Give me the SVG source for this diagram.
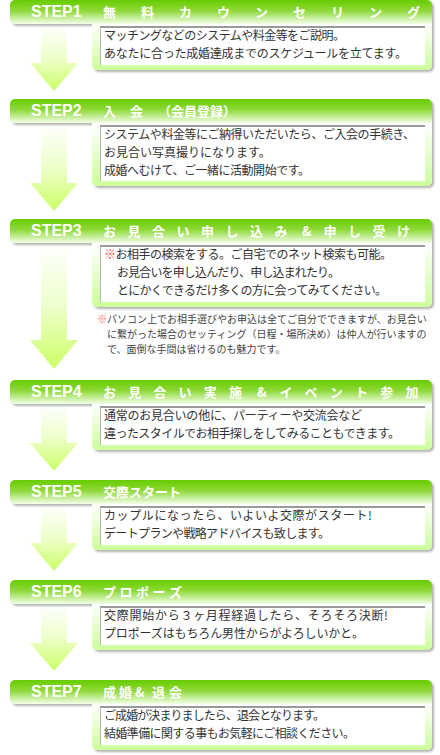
<svg xmlns="http://www.w3.org/2000/svg" width="440" height="755" viewBox="0 0 440 755">
<defs>
<linearGradient id="hdr" x1="0" y1="0" x2="0" y2="1">
<stop offset="0" stop-color="#66cc00"/>
<stop offset="0.45" stop-color="#8fd93a"/>
<stop offset="1" stop-color="#f4ffea"/>
</linearGradient>
<linearGradient id="pnl" x1="0" y1="0" x2="0" y2="1">
<stop offset="0" stop-color="#ffffff"/>
<stop offset="1" stop-color="#ccff99"/>
</linearGradient>
<linearGradient id="arr" x1="0" y1="0" x2="0" y2="1">
<stop offset="0" stop-color="#ffffff"/>
<stop offset="0.5" stop-color="#eeffcc"/>
<stop offset="0.75" stop-color="#dcff99"/>
<stop offset="1" stop-color="#ccff66"/>
</linearGradient>
<filter id="sh" x="-5%" y="-10%" width="110%" height="130%">
<feDropShadow dx="2" dy="2" stdDeviation="1.2" flood-color="#000" flood-opacity="0.3"/>
</filter>
</defs>
<style>
.hdr{fill:url(#hdr)}
.pnl{fill:url(#pnl)}
.box{fill:#ffffff}
.bt{stroke:#9a9a9a;stroke-width:2;fill:none}
.bl{stroke:#b4b4b4;stroke-width:1;fill:none}
.arrow{fill:url(#arr)}
.stp{font-family:"Liberation Sans",Arial,sans-serif;font-weight:bold;font-size:16px;fill:#ffffff}
.ttl{font-family:"Noto Sans CJK JP",sans-serif;font-weight:bold;font-size:13px;fill:#ffffff}
.bd{font-family:"Noto Sans CJK JP",sans-serif;font-size:12px;fill:#333333}
.nt{font-family:"Noto Sans CJK JP",sans-serif;font-size:10px;fill:#444444}
.red{fill:#ff4d4d}
</style>

<g id="connectors">
<path class="arrow" d="M41,24 H67 V63 H78 L54,91 L30,63 H41 Z"/>
<path class="arrow" d="M41,123 H67 V183 H78 L54,211 L30,183 H41 Z"/>
<path class="arrow" d="M41,243 H67 V340 H78 L54,369 L30,340 H41 Z"/>
<path class="arrow" d="M41,404 H67 V443 H78 L54,471 L30,443 H41 Z"/>
<path class="arrow" d="M41,504 H67 V543 H78 L54,571 L30,543 H41 Z"/>
<path class="arrow" d="M41,604 H67 V643 H78 L54,671 L30,643 H41 Z"/>
</g>

<g id="step1">
<g filter="url(#sh)">
<path class="hdr" d="M15,0 H427 A5,5 0 0 1 432,5 V24 H15 A5,5 0 0 1 10,19 V5 A5,5 0 0 1 15,0 Z"/>
<path class="pnl" d="M92,24 H432 V65 A5,5 0 0 1 427,70 H97 A5,5 0 0 1 92,65 Z"/>
</g>
<rect class="box" x="100" y="26" width="325" height="39"/>
<path class="bt" d="M100,27 H425"/>
<path class="bl" d="M100.5,27 V65"/>
<text class="stp" x="31" y="17">STEP1</text>
<text class="ttl" x="103 141 179 217 255 293 331 369 407" y="17">無料カウンセリング</text>
<text class="bd" x="104" y="40" textLength="241" lengthAdjust="spacing">マッチングなどのシステムや料金等をご説明。</text>
<text class="bd" x="104" y="58" textLength="303" lengthAdjust="spacing">あなたに合った成婚達成までのスケジュールを立てます。</text>
</g>

<g id="step2">
<g filter="url(#sh)">
<path class="hdr" d="M15,99 H427 A5,5 0 0 1 432,104 V123 H15 A5,5 0 0 1 10,118 V104 A5,5 0 0 1 15,99 Z"/>
<path class="pnl" d="M92,123 H432 V181 A5,5 0 0 1 427,186 H97 A5,5 0 0 1 92,181 Z"/>
</g>
<rect class="box" x="100" y="125" width="325" height="56"/>
<path class="bt" d="M100,126 H425"/>
<path class="bl" d="M100.5,126 V181"/>
<text class="stp" x="31" y="116">STEP2</text>
<text class="ttl" x="103 130 158" y="116">入会（会員登録）</text>
<text class="bd" x="104" y="139" textLength="311" lengthAdjust="spacing">システムや料金等にご納得いただいたら、ご入会の手続き、</text>
<text class="bd" x="104" y="157">お見合い写真撮りになります。</text>
<text class="bd" x="104" y="175" textLength="206" lengthAdjust="spacing">成婚へむけて、ご一緒に活動開始です。</text>
</g>

<g id="step3">
<g filter="url(#sh)">
<path class="hdr" d="M15,219 H427 A5,5 0 0 1 432,224 V243 H15 A5,5 0 0 1 10,238 V224 A5,5 0 0 1 15,219 Z"/>
<path class="pnl" d="M92,243 H432 V302 A5,5 0 0 1 427,307 H97 A5,5 0 0 1 92,302 Z"/>
</g>
<rect class="box" x="100" y="245" width="325" height="57"/>
<path class="bt" d="M100,246 H425"/>
<path class="bl" d="M100.5,246 V302"/>
<text class="stp" x="31" y="236">STEP3</text>
<text class="ttl" x="103 127.5 152 176.5 201 225.5 250 274.5 302 323.5 348 372.5 397" y="236">お見合い申し込み&amp;申し受け</text>
<text class="bd" x="104" y="259" textLength="288" lengthAdjust="spacing"><tspan class="red">※</tspan>お相手の検索をする。ご自宅でのネット検索も可能。</text>
<text class="bd" x="117" y="277" textLength="223" lengthAdjust="spacing">お見合いを申し込んだり、申し込まれたり。</text>
<text class="bd" x="117" y="295" textLength="270" lengthAdjust="spacing">とにかくできるだけ多くの方に会ってみてください。</text>
<text class="nt" x="97" y="323"><tspan class="red">※</tspan>パソコン上でお相手選びやお申込は全てご自分でできますが、お見合い</text>
<text class="nt" x="107" y="338">に繋がった場合のセッティング（日程・場所決め）は仲人が行いますの</text>
<text class="nt" x="107" y="353">で、面倒な手間は省けるのも魅力です。</text>
</g>

<g id="step4">
<g filter="url(#sh)">
<path class="hdr" d="M15,380 H427 A5,5 0 0 1 432,385 V404 H15 A5,5 0 0 1 10,399 V385 A5,5 0 0 1 15,380 Z"/>
<path class="pnl" d="M92,404 H432 V445 A5,5 0 0 1 427,450 H97 A5,5 0 0 1 92,445 Z"/>
</g>
<rect class="box" x="100" y="406" width="325" height="39"/>
<path class="bt" d="M100,407 H425"/>
<path class="bl" d="M100.5,407 V445"/>
<text class="stp" x="31" y="397">STEP4</text>
<text class="ttl" x="103 128.2 153.4 178.6 203.8 229 257 279.4 304.6 329.8 355 380.2 405.4" y="397">お見合い実施&amp;イベント参加</text>
<text class="bd" x="104" y="420" textLength="258" lengthAdjust="spacing">通常のお見合いの他に、パーティーや交流会など</text>
<text class="bd" x="104" y="438" textLength="296" lengthAdjust="spacing">違ったスタイルでお相手探しをしてみることもできます。</text>
</g>

<g id="step5">
<g filter="url(#sh)">
<path class="hdr" d="M15,480 H427 A5,5 0 0 1 432,485 V504 H15 A5,5 0 0 1 10,499 V485 A5,5 0 0 1 15,480 Z"/>
<path class="pnl" d="M92,504 H432 V545 A5,5 0 0 1 427,550 H97 A5,5 0 0 1 92,545 Z"/>
</g>
<rect class="box" x="100" y="506" width="325" height="39"/>
<path class="bt" d="M100,507 H425"/>
<path class="bl" d="M100.5,507 V545"/>
<text class="stp" x="31" y="497">STEP5</text>
<text class="ttl" x="103" y="497">交際スタート</text>
<text class="bd" x="104" y="520" textLength="268" lengthAdjust="spacing">カップルになったら、いよいよ交際がスタート!</text>
<text class="bd" x="104" y="538" textLength="226" lengthAdjust="spacing">デートプランや戦略アドバイスも致します。</text>
</g>

<g id="step6">
<g filter="url(#sh)">
<path class="hdr" d="M15,580 H427 A5,5 0 0 1 432,585 V604 H15 A5,5 0 0 1 10,599 V585 A5,5 0 0 1 15,580 Z"/>
<path class="pnl" d="M92,604 H432 V645 A5,5 0 0 1 427,650 H97 A5,5 0 0 1 92,645 Z"/>
</g>
<rect class="box" x="100" y="606" width="325" height="39"/>
<path class="bt" d="M100,607 H425"/>
<path class="bl" d="M100.5,607 V645"/>
<text class="stp" x="31" y="597">STEP6</text>
<text class="ttl" x="103 119.5 136 152.5 169" y="597">プロポーズ</text>
<text class="bd" x="104" y="620" textLength="284" lengthAdjust="spacing">交際開始から３ヶ月程経過したら、そろそろ決断!</text>
<text class="bd" x="104" y="638" textLength="260" lengthAdjust="spacing">プロポーズはもちろん男性からがよろしいかと。</text>
</g>

<g id="step7">
<g filter="url(#sh)">
<path class="hdr" d="M15,680 H427 A5,5 0 0 1 432,685 V704 H15 A5,5 0 0 1 10,699 V685 A5,5 0 0 1 15,680 Z"/>
<path class="pnl" d="M92,704 H432 V745 A5,5 0 0 1 427,750 H97 A5,5 0 0 1 92,745 Z"/>
</g>
<rect class="box" x="100" y="706" width="325" height="39"/>
<path class="bt" d="M100,707 H425"/>
<path class="bl" d="M100.5,707 V745"/>
<text class="stp" x="31" y="697">STEP7</text>
<text class="ttl" x="103 119 135 152 169" y="697">成婚&amp;退会</text>
<text class="bd" x="104" y="720" textLength="221" lengthAdjust="spacing">ご成婚が決まりましたら、退会となります。</text>
<text class="bd" x="104" y="738" textLength="251" lengthAdjust="spacing">結婚準備に関する事もお気軽にご相談ください。</text>
</g>
</svg>
